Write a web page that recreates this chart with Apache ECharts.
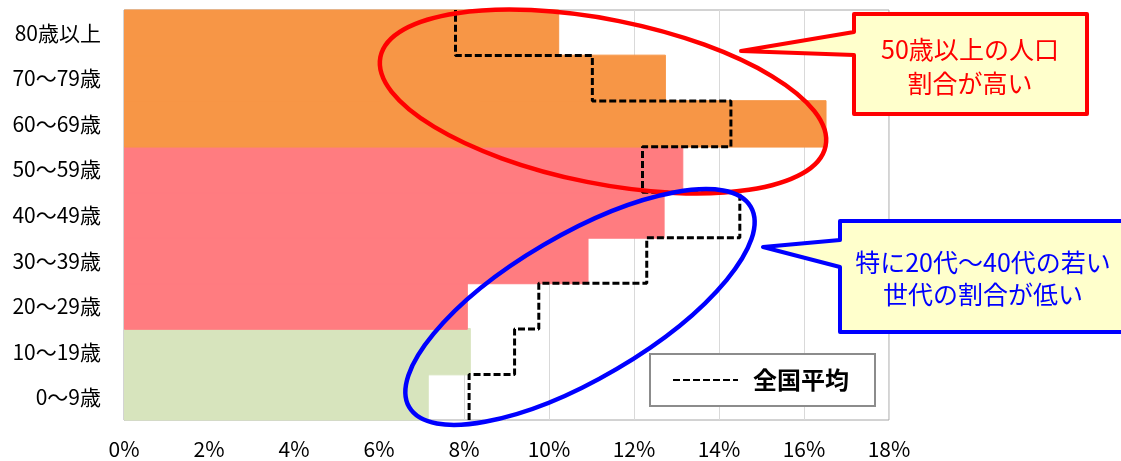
<!DOCTYPE html>
<html>
<head>
<meta charset="utf-8">
<script src="https://cdn.jsdelivr.net/npm/echarts@6/dist/echarts.min.js"></script>
<style>
html,body{margin:0;padding:0;background:#fff;}
#main{width:1121px;height:461px;}
</style>
</head>
<body>
<div id="main"></div>
<script>
// Age groups, bottom to top
var categories = ['0～9歳', '10～19歳', '20～29歳', '30～39歳', '40～49歳', '50～59歳', '60～69歳', '70～79歳', '80歳以上'];
// Local share of population (%)
var localShare = [7.17, 8.16, 8.09, 10.93, 12.72, 13.16, 16.53, 12.75, 10.24];
// National average share (%)
var nationalAvg = [8.12, 9.19, 9.76, 12.30, 14.49, 12.20, 14.28, 11.02, 7.80];
// Series / legend names
var lineName = '全国平均';
// Callout texts
var calloutHigh = ['50歳以上の人口', '割合が高い'];
var calloutLow = ['特に20代～40代の若い', '世代の割合が低い'];

var FONT = 'Noto Sans CJK JP';
function groupColor(i) {
  if (i < 2) return '#D7E4BD';
  if (i < 6) return '#FF7C80';
  return '#F79646';
}

var barData = localShare.map(function (v, i) {
  var c = groupColor(i);
  return { value: v, itemStyle: { color: c, borderColor: c, borderWidth: 1 } };
});
var stepData = [];
nationalAvg.forEach(function (v, i) {
  stepData.push([v, i]);
  stepData.push([v, i + 1]);
});

var chart = echarts.init(document.getElementById('main'), null, { renderer: 'canvas' });
chart.setOption({
  animation: false,
  textStyle: { fontFamily: FONT },
  grid: {
    left: 124, right: 232, top: 10, bottom: 41,
    show: true, borderColor: '#A6A6A6', borderWidth: 1, backgroundColor: 'transparent'
  },
  xAxis: [{
    type: 'value', min: 0, max: 18, interval: 2,
    axisLine: { show: false }, axisTick: { show: false },
    splitLine: { show: true, lineStyle: { color: '#D9D9D9', width: 1 } },
    axisLabel: { formatter: '{value}%', fontSize: 21, color: '#000', margin: 19, fontFamily: FONT }
  }],
  yAxis: [{
    type: 'category', data: categories,
    axisLine: { show: true, lineStyle: { color: '#BFBFBF' } },
    axisTick: { show: false },
    splitLine: { show: false },
    axisLabel: { fontSize: 21, color: '#000', margin: 23, fontFamily: FONT }
  }, {
    type: 'value', min: 0, max: 9, show: false,
    axisLine: { show: false }, axisTick: { show: false }, axisLabel: { show: false },
    splitLine: { show: false }, splitArea: { show: false }
  }],
  legend: {
    data: [lineName],
    left: 650, top: 354,
    padding: [14, 26, 14, 22],
    borderColor: '#8C8C8C', borderWidth: 2, backgroundColor: '#fff',
    itemWidth: 65, itemHeight: 14,
    itemStyle: { opacity: 0 },
    textStyle: { fontSize: 24, fontWeight: 'bold', color: '#000', fontFamily: FONT, padding: [0, 0, 0, 10] }
  },
  series: [{
    type: 'bar', name: '割合', data: barData,
    xAxisIndex: 0, yAxisIndex: 0,
    barWidth: '104%', barCategoryGap: 0, z: 2, clip: true
  }, {
    type: 'line', name: lineName, data: stepData,
    xAxisIndex: 0, yAxisIndex: 1,
    symbol: 'none', z: 5,
    lineStyle: { color: '#000', width: 3, type: [7, 3] },
    itemStyle: { color: '#000' }
  }],
  graphic: [
    {
      type: 'ellipse', x: 603, y: 101.5, rotation: -11.3 * Math.PI / 180, z: 100,
      shape: { cx: 0, cy: 0, rx: 227, ry: 82 },
      style: { fill: 'none', stroke: '#FF0000', lineWidth: 4.5 }
    },
    {
      type: 'ellipse', x: 580, y: 307, rotation: 30.4 * Math.PI / 180, z: 100,
      shape: { cx: 0, cy: 0, rx: 198, ry: 72 },
      style: { fill: 'none', stroke: '#0000FF', lineWidth: 4.5 }
    },
    {
      type: 'polygon', z: 100,
      shape: { points: [[854, 14], [1087, 14], [1087, 114], [854, 114], [854, 55], [741, 51], [854, 32]] },
      style: { fill: '#FFFFCC', stroke: '#FF0000', lineWidth: 4, lineJoin: 'round' }
    },
    {
      type: 'text', z: 101, x: 970, y: 66,
      style: { text: calloutHigh.join('\n'), fill: '#FF0000', font: '25px "Noto Sans CJK JP"', align: 'center', verticalAlign: 'middle', lineHeight: 34 }
    },
    {
      type: 'polygon', z: 100,
      shape: { points: [[840, 221], [1126, 221], [1126, 332], [840, 332], [840, 267], [763, 247], [840, 240]] },
      style: { fill: '#FFFFCC', stroke: '#0000FF', lineWidth: 4, lineJoin: 'round' }
    },
    {
      type: 'text', z: 101, x: 983, y: 278,
      style: { text: calloutLow.join('\n'), fill: '#0000FF', font: '25px "Noto Sans CJK JP"', align: 'center', verticalAlign: 'middle', lineHeight: 32 }
    }
  ]
});
</script>
</body>
</html>
